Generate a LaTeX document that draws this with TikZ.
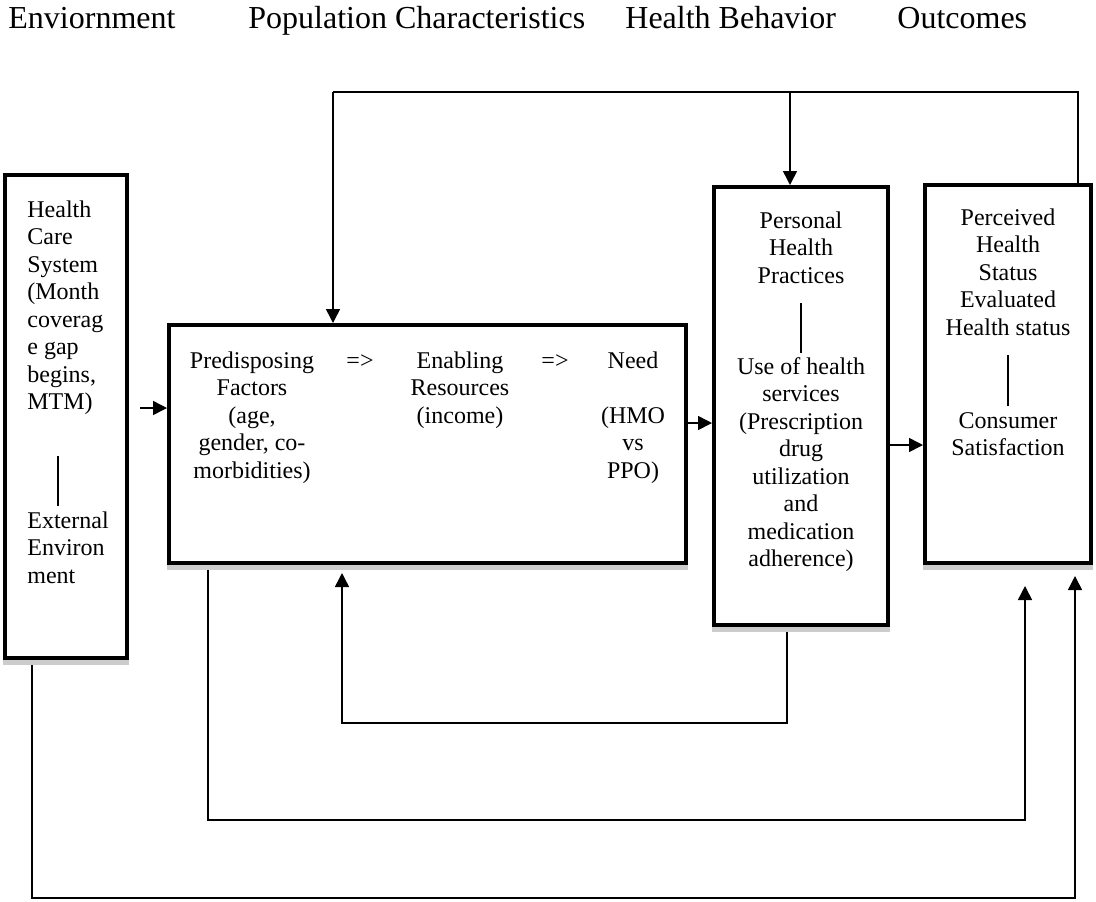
\documentclass[tikz,border=0pt]{standalone}
\usepackage{fontspec}
\setmainfont{Liberation Serif}
\usepackage{tikz}
\usetikzlibrary{arrows.meta}

\tikzset{
  box/.style={draw, line width=2pt, inner sep=0pt},
  txt/.style={inner sep=0pt, font=\fontsize{12}{13.75}\selectfont},
  hdr/.style={inner sep=0pt, anchor=base west, font=\fontsize{16}{19}\selectfont},
  arr/.style={line width=0.75pt, -{Triangle[width=7pt,length=7pt]}},
  link/.style={line width=0.75pt},
  sep/.style={line width=1pt}
}

\begin{document}
\begin{tikzpicture}[x=0.5pt,y=-0.5pt]
        \useasboundingbox (0,0) rectangle (1096,901);
        % Column titles
        \node[hdr] (henv) at (8,28) {Enviornment};
        \node[hdr] (hpop) at (248,28) {Population Characteristics};
        \node[hdr] (hbeh) at (625,28) {Health Behavior};
        \node[hdr] (hout) at (897,28) {Outcomes};

        % Boxes
        \node[box, minimum width=61pt, minimum height=241.5pt] (env) at (66,416.5) {};
        \node[box, minimum width=258.5pt, minimum height=119pt] (pop) at (427.5,444) {};
        \node[box, minimum width=87pt, minimum height=219pt] (behav) at (801,406) {};
        \node[box, minimum width=83pt, minimum height=189pt] (outc) at (1008,374) {};
        \foreach \b in {env,pop,behav,outc}
          \fill[gray!40] (\b.south west) rectangle ([yshift=-2.5pt]\b.south east);

        % Environment (base = last line)
        \node[txt, anchor=base west, align=left] (envtop) at (27,409.5)
          {Health\\Care\\System\\(Month\\coverag\\e gap\\begins,\\MTM)};
        \node[txt, anchor=base west, align=left] (envlow) at (27,583)
          {External\\Environ\\ment};
        \coordinate (envs1) at (58,456);
        \coordinate (envs2) at (58,506);
        \draw[sep] (envs1) -- (envs2);

        % Population characteristics
        \node[txt, anchor=base, align=center] (pre) at (252,478)
          {Predisposing\\Factors\\(age,\\gender, co-\\morbidities)};
        \node[txt, anchor=base] (then1) at (360,368) {=>};
        \node[txt, anchor=base, align=center] (enab) at (460,423)
          {Enabling\\Resources\\(income)};
        \node[txt, anchor=base] (then2) at (555,368) {=>};
        \node[txt, anchor=base, align=center] (need) at (633,478)
          {Need\\\mbox{}\\(HMO\\vs\\PPO)};

        % Health behavior
        \node[txt, anchor=base, align=center] (practice) at (801,283)
          {Personal\\Health\\Practices};
        \node[txt, anchor=base, align=center] (use) at (801,566.5)
          {Use of health\\services\\(Prescription\\drug\\utilization\\and\\medication\\adherence)};
        \coordinate (behs1) at (801,303);
        \coordinate (behs2) at (801,353);
        \draw[sep] (behs1) -- (behs2);

        % Outcomes
        \node[txt, anchor=base, align=center] (status) at (1008,335)
          {Perceived\\Health\\Status\\Evaluated\\Health status};
        \node[txt, anchor=base, align=center] (satis) at (1008,455.5)
          {Consumer\\Satisfaction};
        \coordinate (outs1) at (1008,355);
        \coordinate (outs2) at (1008,406);
        \draw[sep] (outs1) -- (outs2);

        % Forward arrows
        \coordinate (envout) at (140,408);
        \coordinate (popout) at (0,423);
        \coordinate (behout) at (0,445);
        \draw[arr] (envout) -- (envout -| pop.west);
        \draw[arr] (pop.east |- popout) -- (behav.west |- popout);
        \draw[arr] (behav.east |- behout) -- (outc.west |- behout);

        % Feedback over the top
        \coordinate (tl) at (333,92);
        \coordinate (tm) at (790,92);
        \coordinate (tr) at (1078,92);
        \draw[link] (tr |- outc.north) -- (tr) -- (tl);
        \draw[arr] (tl) -- (tl |- pop.north);
        \draw[arr] (tm) -- (tm |- behav.north);

        % Feedback underneath
        \coordinate (b1r) at (787,723);
        \coordinate (b1l) at (342,723);
        \draw[arr] ([yshift=-2.5pt]b1r |- behav.south) -- (b1r) -- (b1l)
          -- ([yshift=-4pt]b1l |- pop.south);
        \coordinate (b2l) at (208,820);
        \coordinate (b2r) at (1025,820);
        \draw[arr] ([yshift=-2.5pt]b2l |- pop.south) -- (b2l) -- (b2r)
          -- ([yshift=-10.5pt]b2r |- outc.south);
        \coordinate (b3l) at (32,898);
        \coordinate (b3r) at (1075,898);
        \draw[arr] ([yshift=-2.5pt]b3l |- env.south) -- (b3l) -- (b3r)
          -- ([yshift=-5.5pt]b3r |- outc.south);
      \end{tikzpicture}
\end{document}
